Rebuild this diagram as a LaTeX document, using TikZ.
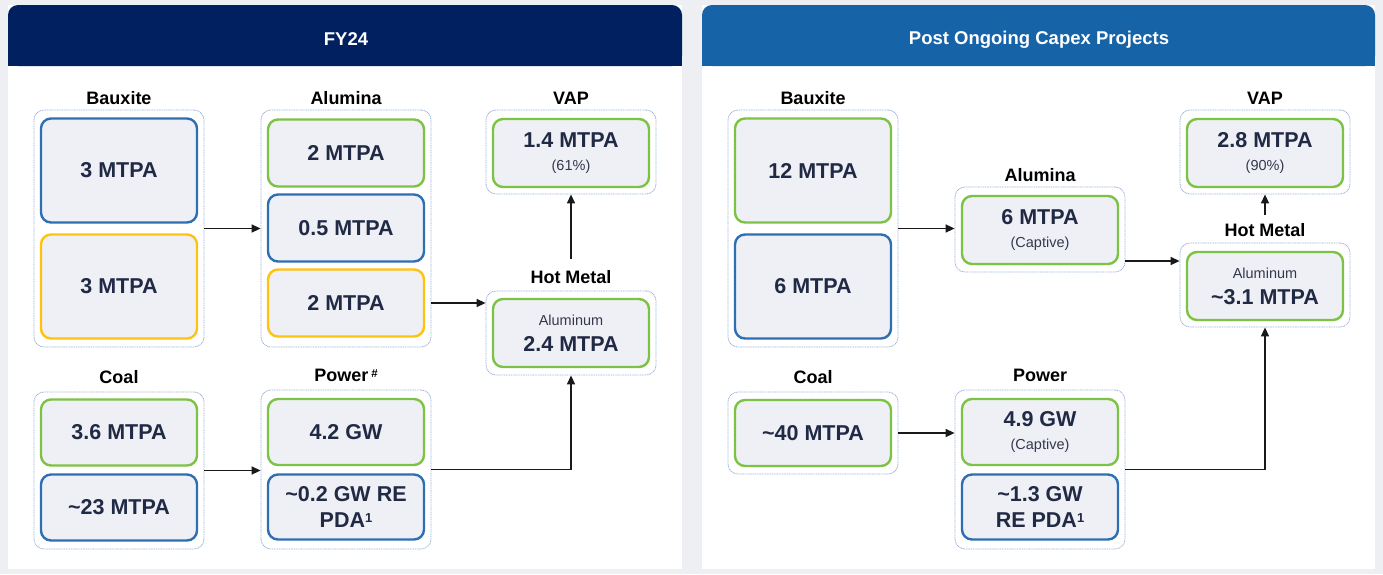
\documentclass[tikz,border=0pt]{standalone}
\usepackage{fontspec}
\setmainfont{Liberation Sans}
\usetikzlibrary{arrows.meta}
\definecolor{pagebg}{HTML}{EDEFF3}
\definecolor{navy}{HTML}{002060}
\definecolor{hblue}{HTML}{1763A7}
\definecolor{boxfill}{HTML}{EFF0F5}
\definecolor{bblue}{HTML}{2E6EB2}
\definecolor{bgreen}{HTML}{7CC244}
\definecolor{byellow}{HTML}{FFC20E}
\definecolor{ctr}{HTML}{9AB2DA}
\definecolor{valtxt}{HTML}{212A45}
\definecolor{subtxt}{HTML}{34384C}
\newcommand\subt[1]{{\fontsize{14.5}{14.5}\selectfont\mdseries\color{subtxt}#1}}
\newcommand\myone{\raisebox{5.5pt}{\fontsize{13}{13}\selectfont 1}}
\begin{document}
\begin{tikzpicture}[x=1pt,y=-1pt,
 container/.style={draw=ctr, line width=0.8pt, dash pattern=on 1pt off 0.7pt, rounded corners=10pt, fill=white, minimum width=170pt, inner sep=0pt},
 valbox/.style={fill=boxfill, line width=2.4pt, rounded corners=10pt, minimum width=156pt, inner sep=0pt, align=center, text=valtxt, font=\fontsize{21.5}{21.5}\selectfont\bfseries},
 bluebox/.style={valbox, draw=bblue},
 greenbox/.style={valbox, draw=bgreen},
 yellowbox/.style={valbox, draw=byellow},
 grplabel/.style={font=\fontsize{18}{18}\selectfont\bfseries, text=black, anchor=base},
 hdrtext/.style={font=\fontsize{18.5}{18.5}\selectfont\bfseries, text=white},
 hdrbox/.style={rounded corners=10pt, minimum width=674pt, minimum height=61pt, inner sep=0pt},
 arr/.style={draw=black!90, line width=1.4pt, -{Triangle[length=9pt,width=8pt]}},
]
% background
\fill[pagebg] (0,0) rectangle (1383,574);
\fill[white] (8,5) rectangle (682,569);
\fill[white] (702,5) rectangle (1375,569);
% headers
\fill[navy] (8,36) rectangle (682,66);
\node[hdrbox, fill=navy] (hL) at (345,35.5) {};
\node[hdrtext] (hLt) at (346,39.5) {FY24};
\fill[hblue] (702,36) rectangle (1375,66);
\node[hdrbox, fill=hblue, minimum width=673pt] (hR) at (1038.5,35.5) {};
\node[hdrtext] (hRt) at (1039,39.5) {Post Ongoing Capex Projects};

% ================= LEFT PANEL =================
% Bauxite
\node[grplabel] (lbBxL) at (119,104.5) {Bauxite};
\node[container, minimum height=237pt] (bxL) at (119,228.5) {};
\node[bluebox, minimum height=104pt] (bxL1) at (119,170.5) {3 MTPA};
\node[yellowbox, minimum height=104pt] (bxL2) at (119,286.5) {3 MTPA};
% Alumina
\node[grplabel] (lbAlL) at (346,104.5) {Alumina};
\node[container, minimum height=237pt] (alL) at (346,228.5) {};
\node[greenbox, minimum height=67pt] (alL1) at (346,153) {2 MTPA};
\node[bluebox, minimum height=67pt] (alL2) at (346,228) {0.5 MTPA};
\node[yellowbox, minimum height=67pt] (alL3) at (346,303) {2 MTPA};
% VAP
\node[grplabel] (lbVapL) at (571,104.5) {VAP};
\node[container, minimum height=84pt] (vapL) at (571,152) {};
\node[greenbox, minimum height=68pt] (vapL1) at (571,153) {1.4 MTPA\\[2pt]\subt{(61\%)}};
% Hot Metal
\node[grplabel] (lbHmL) at (571,283.5) {Hot Metal};
\node[container, minimum height=84pt] (hmL) at (571,333) {};
\node[greenbox, minimum height=68pt] (hmL1) at (571,333) {\subt{Aluminum}\\[4.5pt]2.4 MTPA};
% Coal
\node[grplabel] (lbCoL) at (119,383.5) {Coal};
\node[container, minimum height=157pt] (coL) at (119,470.5) {};
\node[greenbox, minimum height=66pt] (coL1) at (119,432.5) {3.6 MTPA};
\node[bluebox, minimum height=66pt] (coL2) at (119,507.5) {\textasciitilde 23 MTPA};
% Power
\node[grplabel] (lbPwL) at (346,381.5) {Power\hspace{3pt}\raisebox{4pt}{\fontsize{11.5}{11.5}\selectfont\#}};
\node[container, minimum height=159pt] (pwL) at (346,469.5) {};
\node[greenbox, minimum height=66pt] (pwL1) at (346,432) {4.2 GW};
\node[bluebox, minimum height=65pt] (pwL2) at (346,507) {\textasciitilde 0.2 GW RE\\[5pt]PDA\myone};
% arrows left
\draw[arr] (bxL.east) -- (bxL.east -| alL.west);
\draw[arr] (alL.east |- alL3) -- (hmL.west |- alL3);
\draw[arr] (coL.east) -- (coL.east -| pwL.west);
\draw[arr] (pwL.east) -| (hmL.south);
\draw[arr, shorten <=8pt] (lbHmL.north) -- (vapL.south);

% ================= RIGHT PANEL =================
% Bauxite
\node[grplabel] (lbBxR) at (813,104.5) {Bauxite};
\node[container, minimum height=237pt] (bxR) at (813,228.5) {};
\node[greenbox, minimum height=104pt] (bxR1) at (813,170.5) {12 MTPA};
\node[bluebox, minimum height=104pt] (bxR2) at (813,286.5) {6 MTPA};
% Alumina
\node[grplabel] (lbAlR) at (1040,181.5) {Alumina};
\node[container, minimum height=85pt] (alR) at (1040,229.5) {};
\node[greenbox, minimum height=68pt] (alR1) at (1040,230) {6 MTPA\\[2pt]\subt{(Captive)}};
% VAP
\node[grplabel] (lbVapR) at (1265,104.5) {VAP};
\node[container, minimum height=84pt] (vapR) at (1265,152) {};
\node[greenbox, minimum height=68pt] (vapR1) at (1265,153) {2.8 MTPA\\[2pt]\subt{(90\%)}};
% Hot Metal
\node[grplabel] (lbHmR) at (1265,236.5) {Hot Metal};
\node[container, minimum height=84pt] (hmR) at (1265,285) {};
\node[greenbox, minimum height=68pt] (hmR1) at (1265,286) {\subt{Aluminum}\\[4.5pt]\textasciitilde 3.1 MTPA};
% Coal
\node[grplabel] (lbCoR) at (813,383.5) {Coal};
\node[container, minimum height=82pt] (coR) at (813,433) {};
\node[greenbox, minimum height=66pt] (coR1) at (813,433) {\textasciitilde 40 MTPA};
% Power
\node[grplabel] (lbPwR) at (1040,381.5) {Power};
\node[container, minimum height=159pt] (pwR) at (1040,469.5) {};
\node[greenbox, minimum height=66pt] (pwR1) at (1040,432) {4.9 GW\\[2pt]\subt{(Captive)}};
\node[bluebox, minimum height=65pt] (pwR2) at (1040,507) {\textasciitilde 1.3 GW\\[5pt]RE PDA\myone};
% arrows right
\coordinate (yR1) at (0,261);
\draw[arr] (bxR.east) -- (bxR.east -| alR.west);
\draw[arr] (alR.east |- yR1) -- (hmR.west |- yR1);
\draw[arr] (coR.east) -- (coR.east -| pwR.west);
\draw[arr] (pwR.east) -| (hmR.south);
\draw[arr, shorten <=5pt] (lbHmR.north) -- (vapR.south);
\end{tikzpicture}
\end{document}
